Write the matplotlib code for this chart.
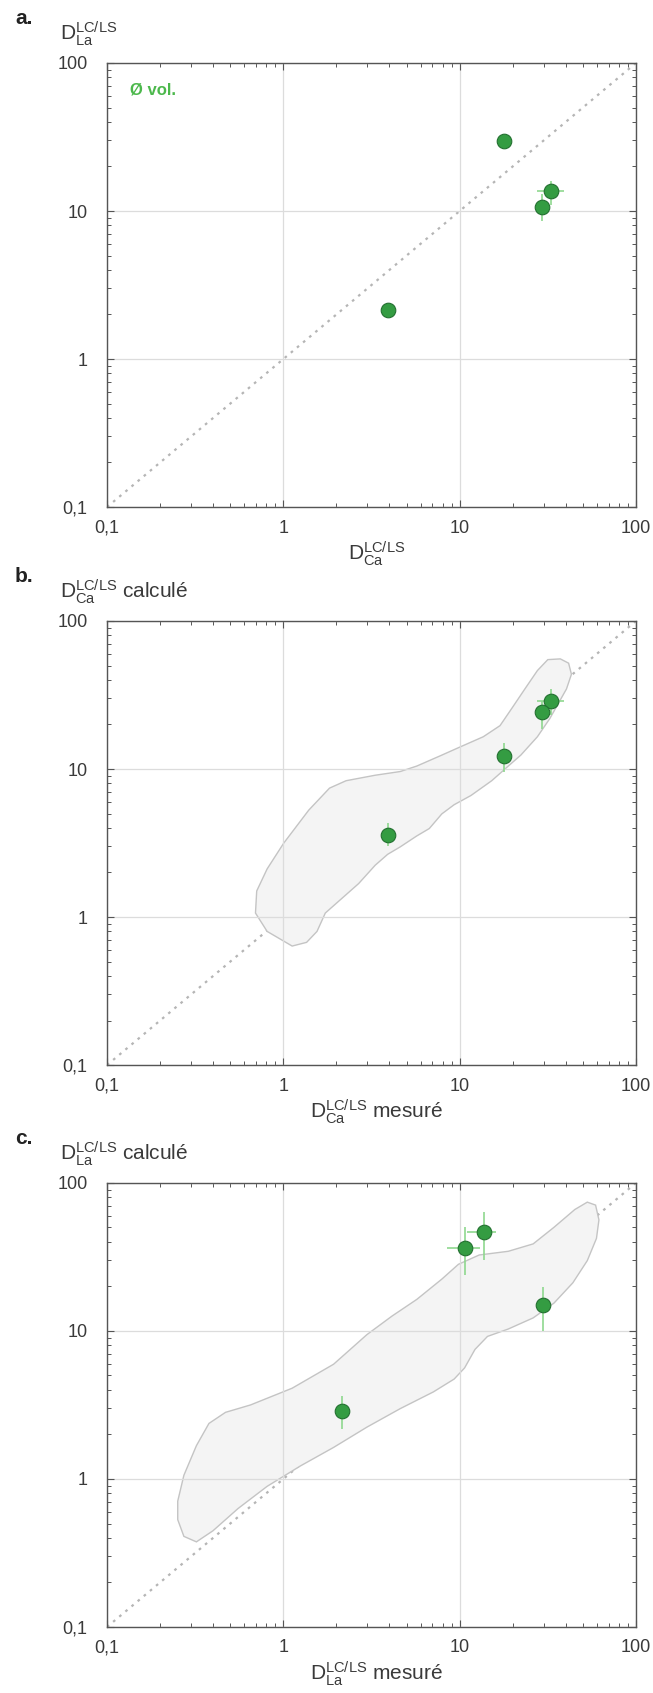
import numpy as np
import matplotlib
matplotlib.use("Agg")
import matplotlib.pyplot as plt

plt.rcParams['font.family'] = ['Liberation Sans', 'DejaVu Sans']
plt.rcParams['mathtext.fontset'] = 'custom'
plt.rcParams['mathtext.rm'] = 'Liberation Sans'
plt.rcParams['mathtext.it'] = 'Liberation Sans'

# samples A, B, C, D
ca_mes = [3.9, 17.9, 32.8, 29.2]
ca_mes_lo = [3.9, 17.9, 27.6, 27.5]
ca_mes_hi = [3.9, 17.9, 38.9, 31.0]

la_mes = [2.15, 29.6, 13.7, 10.7]
la_mes_lo = [2.05, 29.6, 11.0, 8.5]
la_mes_hi = [2.3, 29.6, 16.0, 13.0]

ca_calc = [3.57, 12.2, 28.9, 24.3]
ca_calc_lo = [3.0, 9.6, 23.0, 18.6]
ca_calc_hi = [4.3, 14.9, 34.7, 29.0]

la_calc = [2.9, 15.0, 46.8, 36.5]
la_calc_lo = [2.18, 10.0, 30.2, 23.7]
la_calc_hi = [3.65, 19.7, 63.8, 50.0]

# envelopes (log10 values)
env_b_logx = [0.050, -0.092, -0.158, -0.151, -0.092, 0.002, 0.144, 0.262, 0.356, 0.521,
              0.663, 0.757, 0.899, 0.993, 1.134, 1.229, 1.300, 1.370, 1.441, 1.500,
              1.571, 1.618, 1.634, 1.606, 1.571, 1.512, 1.441, 1.347, 1.276, 1.182,
              1.064, 0.969, 0.899, 0.828, 0.757, 0.663, 0.592, 0.521, 0.427, 0.333,
              0.238, 0.191, 0.132]
env_b_logy = [-0.196, -0.097, 0.027, 0.176, 0.325, 0.499, 0.722, 0.871, 0.921, 0.958,
              0.983, 1.020, 1.094, 1.144, 1.218, 1.293, 1.417, 1.541, 1.665, 1.739,
              1.744, 1.715, 1.640, 1.541, 1.467, 1.342, 1.218, 1.094, 1.020, 0.921,
              0.821, 0.759, 0.697, 0.598, 0.548, 0.474, 0.424, 0.350, 0.226, 0.127,
              0.027, -0.097, -0.171]

env_c_logx = [-0.493, -0.564, -0.599, -0.599, -0.564, -0.493, -0.422, -0.328, -0.186, 0.050,
              0.285, 0.474, 0.616, 0.757, 0.899, 0.993, 1.111, 1.276, 1.417, 1.535,
              1.653, 1.724, 1.771, 1.790, 1.776, 1.724, 1.642, 1.535, 1.417, 1.276,
              1.158, 1.087, 1.028, 0.969, 0.851, 0.663, 0.474, 0.285, 0.097, -0.092,
              -0.257, -0.399]
env_c_logy = [-0.425, -0.388, -0.275, -0.150, 0.025, 0.225, 0.375, 0.450, 0.500, 0.613,
              0.775, 0.975, 1.100, 1.213, 1.350, 1.450, 1.513, 1.538, 1.588, 1.700,
              1.820, 1.870, 1.850, 1.750, 1.625, 1.475, 1.325, 1.188, 1.088, 1.013,
              0.963, 0.875, 0.750, 0.675, 0.588, 0.475, 0.350, 0.213, 0.088, -0.050,
              -0.200, -0.350]

ticks = [0.1, 1, 10, 100]
tick_labels = ['0,1', '1', '10', '100']

GREEN = '#349c42'
EDGE = '#237030'
ERR = '#8fd88f'
TXT = '#3a3a3a'


def setup(ax):
    ax.set_xscale('log')
    ax.set_yscale('log')
    ax.set_xlim(0.1, 100)
    ax.set_ylim(0.1, 100)
    ax.set_xticks(ticks)
    ax.set_xticklabels(tick_labels)
    ax.set_yticks(ticks)
    ax.set_yticklabels(tick_labels)
    ax.grid(True, which='major', color='#dcdcdc', lw=0.9, zorder=0)
    ax.tick_params(which='both', direction='in', top=True, right=True, colors='#555555',
                   labelcolor=TXT, labelsize=13)
    ax.tick_params(which='major', length=5, width=0.8)
    ax.tick_params(which='minor', length=3, width=0.7)
    ax.tick_params(axis='x', pad=9)
    ax.tick_params(axis='y', pad=14)
    for s in ax.spines.values():
        s.set_color('#555555')
        s.set_linewidth(1.0)
    ax.plot([0.1, 100], [0.1, 100], color='#b5b5b5', lw=1.6,
            linestyle=(0, (1.2, 2.4)), zorder=1)


def points(ax, x, xlo, xhi, y, ylo, yhi):
    x = np.array(x)
    y = np.array(y)
    xerr = [x - np.array(xlo), np.array(xhi) - x]
    yerr = [y - np.array(ylo), np.array(yhi) - y]
    ax.errorbar(x, y, xerr=xerr, yerr=yerr, fmt='none', ecolor=ERR, elinewidth=1.2,
                capsize=0, zorder=3)
    ax.plot(x, y, 'o', ms=10.5, mfc=GREEN, mec=EDGE, mew=0.8, zorder=4)


def envelope(ax, lx, ly):
    ax.fill(10 ** np.array(lx), 10 ** np.array(ly), facecolor='#f4f4f4',
            edgecolor='#c4c4c4', lw=1.0, zorder=1)


def labels(ax, letter, ylab, xlab):
    ax.text(-0.174, 1.10, letter, transform=ax.transAxes, fontsize=15,
            fontweight='bold', color='#222222', ha='left', va='center')
    ax.text(-0.089, 1.052, ylab, transform=ax.transAxes, fontsize=15,
            color=TXT, ha='left', va='baseline')
    ax.text(0.51, -0.105, xlab, transform=ax.transAxes, fontsize=15,
            color=TXT, ha='center', va='center')


fig = plt.figure(figsize=(6.53, 16.93), dpi=100)
left, width, height = 0.1639, 0.810, 0.2623

ax_a = fig.add_axes([left, 0.7005, width, height])
setup(ax_a)
points(ax_a, ca_mes, ca_mes_lo, ca_mes_hi, la_mes, la_mes_lo, la_mes_hi)
ax_a.text(0.043, 0.94, 'Ø vol.', transform=ax_a.transAxes, fontsize=12,
          fontweight='bold', color='#4cb84c', ha='left', va='center')
labels(ax_a, 'a.', r'D$_{\mathrm{La}}^{\mathrm{LC/LS}}$', r'D$_{\mathrm{Ca}}^{\mathrm{LC/LS}}$')

ax_b = fig.add_axes([left, 0.3709, width, height])
setup(ax_b)
envelope(ax_b, env_b_logx, env_b_logy)
points(ax_b, ca_mes, ca_mes_lo, ca_mes_hi, ca_calc, ca_calc_lo, ca_calc_hi)
labels(ax_b, 'b.', r'D$_{\mathrm{Ca}}^{\mathrm{LC/LS}}$ calculé',
       r'D$_{\mathrm{Ca}}^{\mathrm{LC/LS}}$ mesuré')

ax_c = fig.add_axes([left, 0.039, width, height])
setup(ax_c)
envelope(ax_c, env_c_logx, env_c_logy)
points(ax_c, la_mes, la_mes_lo, la_mes_hi, la_calc, la_calc_lo, la_calc_hi)
labels(ax_c, 'c.', r'D$_{\mathrm{La}}^{\mathrm{LC/LS}}$ calculé',
       r'D$_{\mathrm{La}}^{\mathrm{LC/LS}}$ mesuré')

fig.savefig('out.png', dpi=100)
